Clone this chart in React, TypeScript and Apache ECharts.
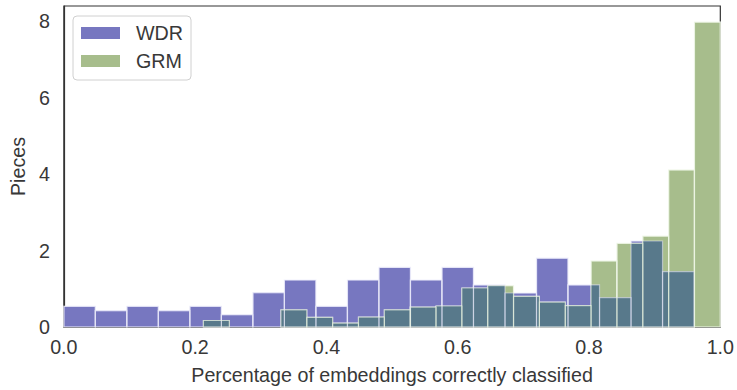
import React, { useEffect, useRef } from "react";
import * as echarts from "echarts";

// Histogram bin edges and heights
const wdrEdges = [0, 0.048, 0.096, 0.144, 0.192, 0.24, 0.288, 0.336, 0.384, 0.432, 0.48, 0.528, 0.576, 0.624, 0.672, 0.72, 0.768, 0.816, 0.864, 0.912, 0.96];
const wdrHeights = [0.54, 0.43, 0.54, 0.43, 0.54, 0.32, 0.9, 1.23, 0.54, 1.23, 1.56, 1.23, 1.56, 1.1, 0.89, 1.8, 1.1, 0.77, 2.25, 1.45];

const grmEdges = [0.2126, 0.252, 0.2913, 0.3307, 0.3701, 0.4094, 0.4488, 0.4882, 0.5276, 0.5669, 0.6063, 0.6457, 0.685, 0.7244, 0.7638, 0.8031, 0.8425, 0.8819, 0.9213, 0.9606, 1.0];
const grmHeights = [0.17, 0, 0, 0.45, 0.25, 0.1, 0.26, 0.45, 0.52, 0.55, 1.02, 1.08, 0.8, 0.65, 0.56, 1.73, 2.19, 2.38, 4.11, 7.98];

const seriesNames = ["WDR", "GRM"];
const xTitle = "Percentage of embeddings correctly classified";
const yTitle = "Pieces";

const WDR_COLOR = "#7777c0";
const GRM_COLOR = "#a7bd8c";
const OVERLAP_COLOR = "#58798b";
const EDGE = "rgba(255,255,255,0.6)";
const FONT = "'Liberation Sans', Arial, sans-serif";
const TEXT = "#383838";
const FS = 19.7;

function binsOf(edges: number[], heights: number[]) {
  return heights.map((h, i) => [edges[i], edges[i + 1], h]).filter((d) => d[2] > 0);
}

function overlapBins() {
  const out: number[][] = [];
  const a = binsOf(wdrEdges, wdrHeights);
  const b = binsOf(grmEdges, grmHeights);
  for (const p of a) {
    for (const q of b) {
      const lo = Math.max(p[0], q[0]);
      const hi = Math.min(p[1], q[1]);
      if (hi > lo) out.push([lo, hi, Math.min(p[2], q[2])]);
    }
  }
  return out;
}

function makeRender(fill: string, stroke: string, lw: number) {
  return (params: any, api: any) => {
    const x0 = api.value(0);
    const x1 = api.value(1);
    const h = api.value(2);
    const p0 = api.coord([x0, 0]);
    const p1 = api.coord([x1, h]);
    return {
      type: "rect",
      shape: { x: p0[0], y: p1[1], width: p1[0] - p0[0], height: p0[1] - p1[1] },
      style: { fill, stroke, lineWidth: lw },
    };
  };
}

export default function App() {
  const ref = useRef<HTMLDivElement>(null);
  useEffect(() => {
    if (!ref.current) return;
    const chart = echarts.init(ref.current, undefined, { renderer: "svg" });
    const common = {
      type: "custom",
      dimensions: ["x0", "x1", "h"],
      encode: { x: [0, 1], y: 2 },
      silent: true,
    };
    chart.setOption({
      animation: false,
      backgroundColor: "#ffffff",
      textStyle: { fontFamily: FONT },
      grid: {
        left: 63,
        right: 14,
        top: 6,
        bottom: 61,
        show: true,
        borderColor: "#333333",
        borderWidth: 1.2,
        backgroundColor: "transparent",
      },
      legend: {
        data: [
          { name: seriesNames[0], itemStyle: { color: WDR_COLOR } },
          { name: seriesNames[1], itemStyle: { color: GRM_COLOR } },
        ],
        orient: "vertical",
        left: 73,
        top: 16,
        icon: "rect",
        itemWidth: 39,
        itemHeight: 12,
        itemGap: 8,
        padding: [7, 8, 9, 8],
        borderColor: "#d0d0d0",
        borderWidth: 1,
        borderRadius: 4,
        backgroundColor: "#ffffff",
        textStyle: { fontSize: FS, color: TEXT, fontFamily: FONT, padding: [0, 0, 0, 11], lineHeight: 20 },
      },
      xAxis: {
        type: "value",
        min: 0,
        max: 1,
        interval: 0.2,
        name: xTitle,
        nameLocation: "middle",
        nameGap: 38,
        nameTextStyle: { fontSize: FS, color: TEXT, fontFamily: FONT },
        axisLine: { show: true, lineStyle: { color: "#333333", width: 1.2 } },
        axisTick: { show: false },
        splitLine: { show: false },
        axisLabel: {
          fontSize: FS,
          color: TEXT,
          fontFamily: FONT,
          margin: 10,
          formatter: (v: number) => v.toFixed(1),
        },
      },
      yAxis: {
        type: "value",
        min: 0,
        max: 8.4,
        interval: 2,
        name: yTitle,
        nameLocation: "middle",
        nameGap: 35,
        nameTextStyle: { fontSize: FS, color: TEXT, fontFamily: FONT },
        axisLine: { show: true, lineStyle: { color: "#333333", width: 1.2 } },
        axisTick: { show: false },
        splitLine: { show: false },
        axisLabel: {
          fontSize: FS,
          color: TEXT,
          fontFamily: FONT,
          margin: 14,
          showMaxLabel: false,
        },
      },
      series: [
        {
          ...common,
          name: seriesNames[0],
          itemStyle: { color: WDR_COLOR },
          renderItem: makeRender(WDR_COLOR, EDGE, 1.2),
          data: binsOf(wdrEdges, wdrHeights),
          z: 2,
        },
        {
          ...common,
          name: seriesNames[1],
          itemStyle: { color: GRM_COLOR },
          renderItem: makeRender(GRM_COLOR, EDGE, 1.2),
          data: binsOf(grmEdges, grmHeights),
          z: 3,
        },
        {
          ...common,
          name: "overlap",
          renderItem: makeRender(OVERLAP_COLOR, "none", 0),
          data: overlapBins(),
          z: 4,
        },
        {
          ...common,
          name: "wdr-edges",
          renderItem: makeRender("none", "rgba(230,230,250,0.55)", 1.2),
          data: binsOf(wdrEdges, wdrHeights),
          z: 5,
        },
        {
          ...common,
          name: "grm-edges",
          renderItem: makeRender("none", "rgba(235,245,225,0.6)", 1.2),
          data: binsOf(grmEdges, grmHeights),
          z: 6,
        },
      ],
    });
    return () => chart.dispose();
  }, []);
  return (
    <div
      ref={ref}
      style={{ position: "fixed", left: 0, top: 0, width: 737, height: 390, background: "#fff" }}
    />
  );
}
